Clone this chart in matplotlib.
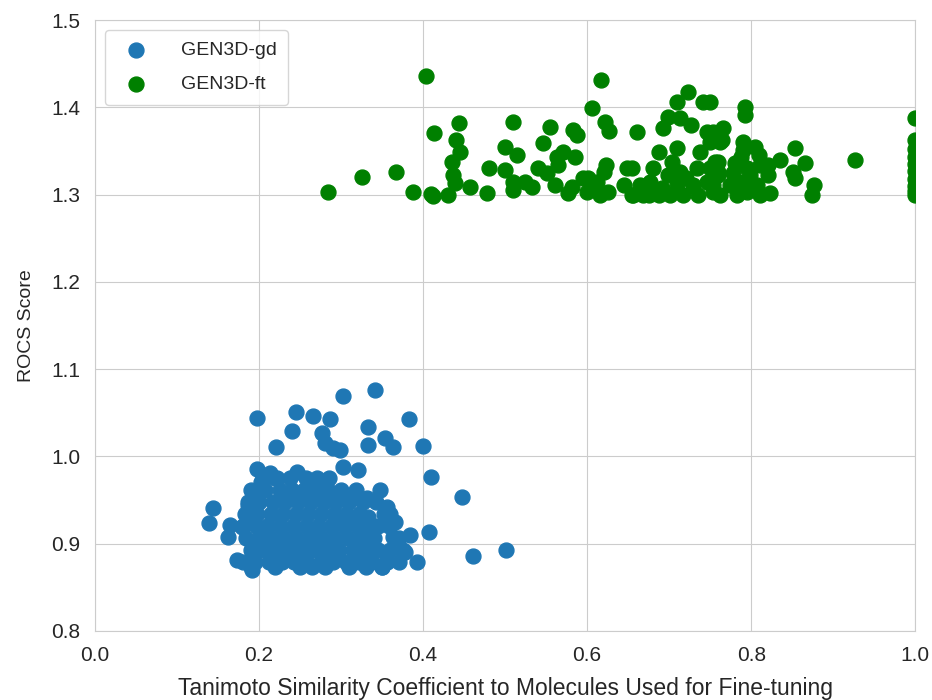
"""ROCS score vs Tanimoto similarity for GEN3D-gd and GEN3D-ft samples."""

import matplotlib
matplotlib.use("Agg")
import matplotlib.pyplot as plt
import seaborn as sns

# ── data ────────────────────────────────────────────────────────────────
# GEN3D-gd: outer points
gd_x_outer = [0.198, 0.245, 0.266, 0.287, 0.302, 0.341, 0.240, 0.221, 0.277,
              0.280, 0.290, 0.299, 0.333, 0.333, 0.383, 0.354, 0.363, 0.400,
              0.410, 0.448, 0.407, 0.461, 0.501, 0.198, 0.213, 0.220, 0.246,
              0.198, 0.187, 0.144, 0.139, 0.165, 0.179, 0.162, 0.173, 0.191,
              0.302, 0.320, 0.283, 0.348, 0.332, 0.315, 0.356, 0.366, 0.363,
              0.384, 0.378, 0.393, 0.356, 0.350, 0.296, 0.311, 0.333, 0.335,
              0.202, 0.185, 0.258]
gd_y_outer = [1.044, 1.051, 1.046, 1.043, 1.069, 1.076, 1.029, 1.011, 1.027,
              1.015, 1.010, 1.007, 1.034, 1.013, 1.043, 1.021, 1.011, 1.012,
              0.976, 0.953, 0.913, 0.886, 0.893, 0.986, 0.981, 0.975, 0.982,
              0.958, 0.944, 0.941, 0.924, 0.921, 0.919, 0.908, 0.881, 0.870,
              0.988, 0.984, 0.973, 0.962, 0.952, 0.953, 0.942, 0.925, 0.908,
              0.910, 0.890, 0.879, 0.879, 0.873, 0.931, 0.929, 0.931, 0.916,
              0.971, 0.924, 0.963]

# GEN3D-gd: dense core
gd_x_core = [0.205, 0.222, 0.238, 0.257, 0.270, 0.285,
             0.190, 0.207, 0.226, 0.240, 0.255, 0.270, 0.284, 0.300, 0.318,
             0.186, 0.200, 0.217, 0.232, 0.248, 0.263, 0.279, 0.294, 0.310,
             0.327, 0.342,
             0.183, 0.198, 0.214, 0.229, 0.245, 0.260, 0.276, 0.291, 0.306,
             0.322, 0.352, 0.360,
             0.180, 0.196, 0.210, 0.226, 0.241, 0.257, 0.272, 0.288, 0.303,
             0.319, 0.345, 0.358,
             0.184, 0.200, 0.215, 0.230, 0.246, 0.262, 0.277, 0.293, 0.308,
             0.324, 0.340, 0.370,
             0.190, 0.205, 0.221, 0.236, 0.252, 0.268, 0.283, 0.298, 0.314,
             0.330, 0.345, 0.360, 0.375,
             0.180, 0.195, 0.212, 0.228, 0.243, 0.259, 0.275, 0.290, 0.306,
             0.322, 0.338, 0.355, 0.370,
             0.190, 0.220, 0.250, 0.265, 0.280, 0.310, 0.330, 0.350]
gd_y_core = [0.975] * 6 + [0.962] * 9 + [0.948] * 11 + [0.934] * 12 \
    + [0.920] * 12 + [0.907] * 12 + [0.893] * 13 + [0.879] * 13 + [0.873] * 8

# GEN3D-ft
ft_x = [0.284, 0.326, 0.367, 0.388, 0.404, 0.410, 0.412, 0.413, 0.430, 0.444,
        0.440, 0.445, 0.435, 0.437, 0.439, 0.457, 0.478, 0.480, 0.509, 0.500,
        0.515, 0.500, 0.509, 0.510, 0.524, 0.533, 0.555, 0.546, 0.540, 0.551,
        0.561, 0.571, 0.563, 0.565, 0.583, 0.588, 0.585, 0.582, 0.595, 0.600,
        0.606, 0.617, 0.622, 0.627, 0.612, 0.616, 0.620, 0.623, 0.661, 0.649,
        0.655, 0.626, 0.656, 0.668, 0.680, 0.677, 0.673, 0.687, 0.693, 0.699,
        0.710, 0.723, 0.741, 0.713, 0.726, 0.710, 0.704, 0.698, 0.691, 0.687,
        0.701, 0.717, 0.713, 0.720, 0.710, 0.738, 0.734, 0.729, 0.735, 0.746,
        0.750, 0.762, 0.760, 0.759, 0.750, 0.746, 0.754, 0.762, 0.750, 0.793,
        0.793, 0.754, 0.766, 0.765, 0.790, 0.790, 0.787, 0.805, 0.809, 0.811,
        0.795, 0.799, 0.790, 0.795, 0.780, 0.778, 0.774, 0.783, 0.756, 0.759,
        0.754, 0.820, 0.821, 0.807, 0.811, 0.823, 0.835, 0.854, 0.851, 0.866,
        0.854, 0.876, 0.874, 0.927, 0.577, 0.601, 0.608, 0.655, 0.676, 0.665,
        0.645, 1.000, 1.000, 1.000, 1.000, 1.000, 1.000, 1.000, 1.000, 1.000,
        1.000]
ft_y = [1.303, 1.320, 1.326, 1.303, 1.436, 1.301, 1.298, 1.370, 1.299, 1.382,
        1.362, 1.349, 1.337, 1.322, 1.313, 1.309, 1.302, 1.331, 1.383, 1.354,
        1.345, 1.328, 1.314, 1.305, 1.314, 1.309, 1.377, 1.359, 1.331, 1.325,
        1.311, 1.349, 1.343, 1.334, 1.374, 1.368, 1.343, 1.309, 1.319, 1.303,
        1.399, 1.431, 1.383, 1.373, 1.314, 1.300, 1.326, 1.334, 1.372, 1.331,
        1.331, 1.303, 1.300, 1.300, 1.330, 1.314, 1.311, 1.349, 1.376, 1.389,
        1.406, 1.417, 1.406, 1.388, 1.380, 1.353, 1.337, 1.322, 1.307, 1.300,
        1.300, 1.300, 1.326, 1.319, 1.311, 1.349, 1.330, 1.311, 1.300, 1.372,
        1.360, 1.360, 1.337, 1.322, 1.330, 1.314, 1.303, 1.300, 1.406, 1.400,
        1.391, 1.372, 1.376, 1.362, 1.360, 1.351, 1.343, 1.354, 1.345, 1.334,
        1.331, 1.322, 1.314, 1.303, 1.336, 1.325, 1.311, 1.300, 1.337, 1.326,
        1.311, 1.334, 1.322, 1.311, 1.300, 1.302, 1.340, 1.353, 1.326, 1.336,
        1.319, 1.311, 1.300, 1.340, 1.302, 1.319, 1.309, 1.300, 1.300, 1.311,
        1.311, 1.388, 1.362, 1.352, 1.343, 1.335, 1.327, 1.318, 1.310, 1.304,
        1.300]

C_GD = "#1f77b4"
C_FT = "green"

sns.set_style("whitegrid")
plt.rcParams["font.family"] = ["Liberation Sans", "DejaVu Sans"]

fig = plt.figure(figsize=(9.32, 7.0), dpi=100)
ax = fig.add_axes([0.102, 0.0986, 0.880, 0.8728])

ax.scatter(gd_x_outer + gd_x_core, gd_y_outer + gd_y_core, s=115,
           color=C_GD, label="GEN3D-gd", zorder=3)
ax.scatter(ft_x, ft_y, s=115, color=C_FT, label="GEN3D-ft", zorder=3)

ax.set_xlim(0, 1)
ax.set_ylim(0.8, 1.5)
ax.set_xlabel("Tanimoto Similarity Coefficient to Molecules Used for Fine-tuning",
              fontsize=16.5, labelpad=9)
ax.set_ylabel("ROCS Score", fontsize=14, labelpad=12)
ax.tick_params(labelsize=15, pad=7)
ax.legend(loc="upper left", fontsize=14, frameon=True, borderpad=0.6,
          handletextpad=1.3, labelspacing=0.85)

fig.savefig("out.png", dpi=100)
